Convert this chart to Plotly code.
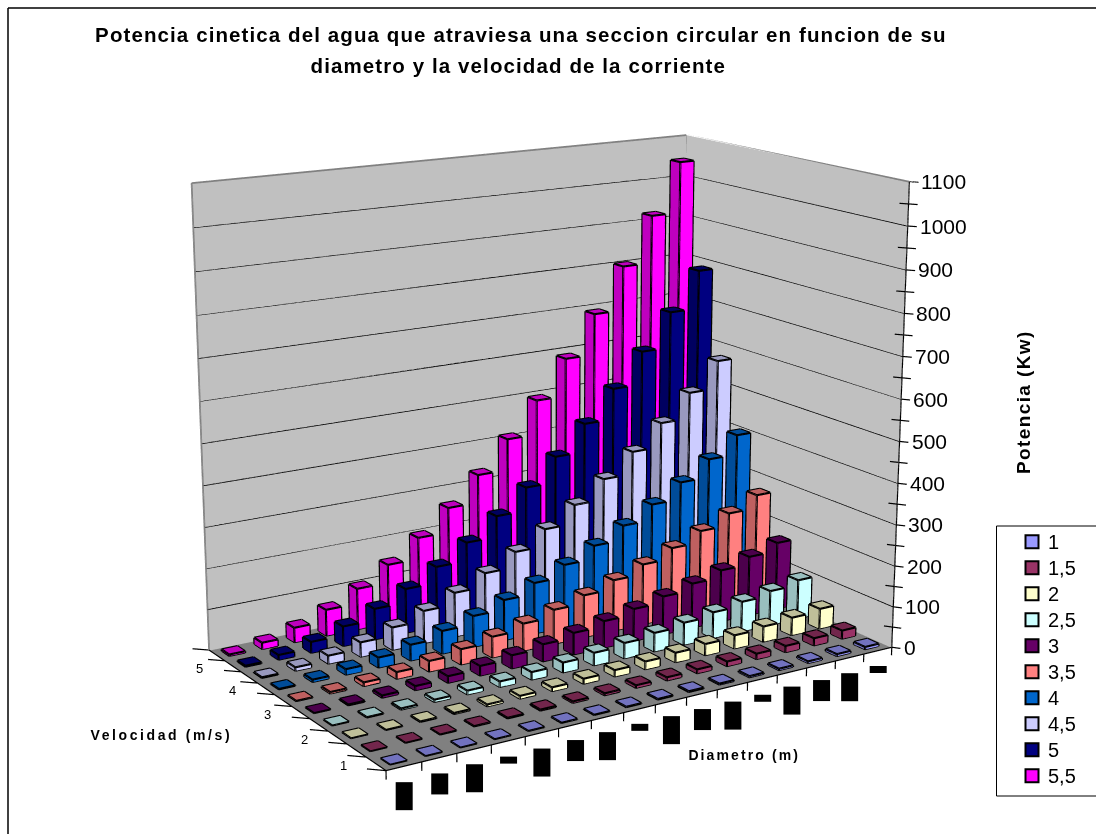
import plotly.graph_objects as go

diametros = ["0,25","0,5","0,75","1","1,25","1,5","1,75","2","2,25","2,5","2,75","3","3,25","3,5","3,75","4"]
velocidades = ["1","1,5","2","2,5","3","3,5","4","4,5","5","5,5"]
colores = ["#9999FF","#993366","#FFFFCC","#CCFFFF","#660066","#FF8080","#0066CC","#CCCCFF","#000080","#FF00FF"]
v_1_0 = [0.0,0.1,0.2,0.4,0.6,0.9,1.2,1.6,2.0,2.5,3.0,3.5,4.1,4.8,5.5,6.3]
v_1_5 = [0.1,0.3,0.7,1.3,2.1,3.0,4.1,5.3,6.7,8.3,10.0,11.9,14.0,16.2,18.6,21.2]
v_2_0 = [0.2,0.8,1.8,3.1,4.9,7.1,9.6,12.6,15.9,19.6,23.8,28.3,33.2,38.5,44.2,50.3]
v_2_5 = [0.4,1.5,3.5,6.1,9.6,13.8,18.8,24.5,31.1,38.3,46.4,55.2,64.8,75.2,86.3,98.2]
v_3_0 = [0.7,2.7,6.0,10.6,16.6,23.9,32.5,42.4,53.7,66.3,80.2,95.4,112.0,129.9,149.1,169.6]
v_3_5 = [1.1,4.2,9.5,16.8,26.3,37.9,51.6,67.3,85.2,105.2,127.3,151.5,177.8,206.3,236.7,269.4]
v_4_0 = [1.6,6.3,14.1,25.1,39.3,56.5,77.0,100.5,127.2,157.1,190.1,226.2,265.5,307.9,353.4,402.1]
v_4_5 = [2.2,8.9,20.1,35.8,55.9,80.5,109.6,143.1,181.2,223.7,270.6,322.1,378.0,438.4,503.2,572.6]
v_5_0 = [3.1,12.3,27.6,49.1,76.7,110.4,150.3,196.3,248.5,306.8,371.2,441.8,518.5,601.3,690.3,785.4]
v_5_5 = [4.1,16.3,36.8,65.3,102.1,147.0,200.1,261.3,330.8,408.3,494.1,588.0,690.1,800.4,918.8,1045.4]
series = [v_1_0,v_1_5,v_2_0,v_2_5,v_3_0,v_3_5,v_4_0,v_4_5,v_5_0,v_5_5]

TITULO_1 = "Potencia cinetica del agua que atraviesa una seccion circular en funcion de su"
TITULO_2 = "diametro y la velocidad de la corriente"

# Scene ranges leave room around the box for tick marks
XR = [-1.0, 17.0]
YR = [-1.0, 11.0]
ZR = [-80.0, 1100.0]
ZMAX = 1100
NX = len(diametros)
NY = len(velocidades)
BAR = 0.48
FOVY = 0.335
FONT = "Liberation Sans, Arial"
LIGHT = dict(ambient=1, diffuse=0, specular=0, fresnel=0, roughness=1)


def shade(h, k=0.75):
    return "rgb(%d,%d,%d)" % tuple(int(int(h[i:i+2], 16) * k) for i in (1, 3, 5))


fig = go.Figure()


def plane(xs, ys, zs, color):
    fig.add_trace(go.Mesh3d(x=xs, y=ys, z=zs, i=[0, 0], j=[1, 2], k=[2, 3], color=color,
                            lighting=LIGHT, hoverinfo="skip"))


def lines(segs, color, width):
    xs, ys, zs = [], [], []
    for a, b in segs:
        xs += [a[0], b[0], None]
        ys += [a[1], b[1], None]
        zs += [a[2], b[2], None]
    fig.add_trace(go.Scatter3d(x=xs, y=ys, z=zs, mode="lines", line=dict(color=color, width=width),
                               hoverinfo="skip", showlegend=False))


# Floor and the two back walls; the floor sits just under zero so flat boxes stay visible
FLOOR = -1.5
plane([0, NX, NX, 0], [0, 0, NY, NY], [FLOOR] * 4, "#808080")
plane([0, NX, NX, 0], [NY] * 4, [FLOOR, FLOOR, ZMAX, ZMAX], "#C0C0C0")
plane([NX] * 4, [0, NY, NY, 0], [FLOOR, FLOOR, ZMAX, ZMAX], "#C0C0C0")

# Wall gridlines every 100 kW
grid = []
for val in range(100, ZMAX, 100):
    grid.append(((0, NY, val), (NX, NY, val)))
    grid.append(((NX, NY, val), (NX, 0, val)))
lines(grid, "#000000", 2.4)

# Wall outline
lines([((0, NY, 0), (0, NY, ZMAX)), ((0, NY, ZMAX), (NX, NY, ZMAX)),
       ((NX, NY, ZMAX), (NX, 0, ZMAX)), ((NX, NY, 0), (NX, NY, ZMAX))], "#808080", 3.5)

# Axis lines and tick marks
ticks = [((NX, 0, 0), (NX, 0, ZMAX)), ((0, 0, 0), (NX, 0, 0)), ((0, 0, 0), (0, NY, 0))]
for val in range(0, ZMAX + 50, 50):
    if val % 100 == 0:
        ticks.append(((NX, 0, val), (NX + 0.14, -0.2, val)))
    else:
        ticks.append(((NX - 0.14, 0.2, val), (NX + 0.14, -0.2, val)))
for i in range(NX + 1):
    ticks.append(((i, 0, 0), (i, 0, -20)))
for j in range(NY + 1):
    ticks.append(((0, j, 0), (-0.34, j + 0.34, 0)))
lines(ticks, "#000000", 2.4)

# One box per diameter/velocity pair: front, left and top faces
for j, (vals, col) in enumerate(zip(series, colores)):
    xs, ys, zs, I, J, K, fc, segs = [], [], [], [], [], [], [], []
    y0 = j + 0.5 - BAR / 2
    y1 = j + 0.5 + BAR / 2
    for i, h in enumerate(vals):
        x0 = i + 0.5 - BAR / 2
        x1 = i + 0.5 + BAR / 2
        for pts, color in (
            ([(x0, y0, 0), (x1, y0, 0), (x1, y0, h), (x0, y0, h)], col),
            ([(x0, y0, 0), (x0, y1, 0), (x0, y1, h), (x0, y0, h)], shade(col)),
            ([(x0, y0, h), (x1, y0, h), (x1, y1, h), (x0, y1, h)], shade(col)),
        ):
            n = len(xs)
            for q in pts:
                xs.append(q[0])
                ys.append(q[1])
                zs.append(q[2])
            I += [n, n]
            J += [n + 1, n + 2]
            K += [n + 2, n + 3]
            fc += [color, color]
        a0, b0, c0 = (x0, y0, 0), (x1, y0, 0), (x0, y1, 0)
        a1, b1, c1, d1 = (x0, y0, h), (x1, y0, h), (x0, y1, h), (x1, y1, h)
        segs += [(a0, b0), (a0, c0), (a0, a1), (b0, b1), (c0, c1), (a1, b1), (a1, c1), (b1, d1), (c1, d1)]
    fig.add_trace(go.Mesh3d(x=xs, y=ys, z=zs, i=I, j=J, k=K, facecolor=fc, lighting=LIGHT,
                            flatshading=True, name=velocidades[j], hoverinfo="skip"))
    lines(segs, "#000000", 4.2)

# Tick labels anchored to the scene so they follow the data axes
scene_labels = []
for val in range(0, ZMAX + 100, 100):
    scene_labels.append(dict(x=NX, y=0, z=val, text=str(val), showarrow=False, xanchor="left", xshift=10,
                             font=dict(family=FONT, size=21, color="#000")))
for j in range(0, NY, 2):
    scene_labels.append(dict(x=0, y=j + 0.5, z=0, text=velocidades[j], showarrow=False, xshift=-33, yshift=-2,
                             font=dict(family=FONT, size=13, color="#000")))
# Diameter labels are printed black on black, rotated, as solid blocks
BLOCK = {4: 27, 3: 20, 1: 6}
for i, d in enumerate(diametros):
    scene_labels.append(dict(x=i + 0.5, y=0, z=0, text=d, showarrow=False, textangle=-90, yanchor="top",
                             yshift=-15, bgcolor="#000", width=BLOCK[len(d)], height=16, borderpad=0,
                             font=dict(family=FONT, size=10, color="#000")))

ann = [
    dict(x=521, y=34.5, text="<b>" + TITULO_1 + "</b>", font=dict(size=20.5, family=FONT, color="#000")),
    dict(x=518, y=65, text="<b>" + TITULO_2 + "</b>", font=dict(size=20.5, family=FONT, color="#000")),
    dict(x=161, y=735, text="<b>Velocidad (m/s)</b>", font=dict(size=14, family=FONT, color="#000")),
    dict(x=744, y=755, text="<b>Diametro (m)</b>", font=dict(size=14, family=FONT, color="#000")),
    dict(x=1023, y=402, text="<b>Potencia (Kw)</b>", textangle=-90, font=dict(size=19, family=FONT, color="#000")),
]
shapes = [
    dict(type="line", x0=8, x1=1096, y0=8, y1=8, line=dict(color="#000", width=1.5)),
    dict(type="line", x0=8, x1=8, y0=8, y1=834, line=dict(color="#000", width=1.5)),
    dict(type="rect", x0=996.5, x1=1100, y0=526, y1=796, line=dict(color="#000", width=1), fillcolor="#fff"),
]
for j, col in enumerate(colores):
    yc = 541.7 + 26 * j
    shapes.append(dict(type="rect", x0=1025.5, x1=1038.5, y0=yc - 6.5, y1=yc + 6.5,
                       line=dict(color="#000", width=2), fillcolor=col))
    ann.append(dict(x=1046, y=yc, text=velocidades[j], xanchor="left", font=dict(size=20, family=FONT, color="#000")))
for a in ann:
    a.update(xref="x", yref="y", showarrow=False)
for s in shapes:
    s.update(xref="x", yref="y", layer="above")

# Empty 2D trace: gives the title, legend box and axis titles a pixel-sized coordinate system
fig.add_trace(go.Scatter(x=[None], y=[None], xaxis="x", yaxis="y", showlegend=False))

fig.update_layout(
    width=1096, height=834, margin=dict(l=0, r=0, t=0, b=0), paper_bgcolor="white",
    plot_bgcolor="rgba(0,0,0,0)", showlegend=False,
    xaxis=dict(visible=False, range=[0, 1096], domain=[0, 1]),
    yaxis=dict(visible=False, range=[834, 0], domain=[0, 1]),
    annotations=ann, shapes=shapes,
    scene=dict(
        domain=dict(x=[0, 1], y=[0, 1]),
        xaxis=dict(visible=False, range=XR), yaxis=dict(visible=False, range=YR), zaxis=dict(visible=False, range=ZR),
        aspectmode="manual", aspectratio=dict(x=1.5910, y=1.0630, z=1.2335), bgcolor="rgba(0,0,0,0)",
        camera=dict(eye=dict(x=-3.0786, y=-4.7751, z=1.5588), center=dict(x=0.0058, y=0.0224, z=0.0468),
                    up=dict(x=-0.0004, y=-0.0004, z=1)),
        annotations=scene_labels,
    ),
)

# Narrow the scene's field of view and open up the lettering of the titles
post = """
var gd = document.getElementById('{plot_id}');
var st = document.createElement('style');
st.textContent =
  'text[data-unformatted*="Potencia cinetica"], text[data-unformatted*="diametro y"] {letter-spacing:1.1px}' +
  'text[data-unformatted*="Velocidad"] {letter-spacing:2.6px}' +
  'text[data-unformatted*="Diametro"] {letter-spacing:2.1px}' +
  'text[data-unformatted*="Potencia (Kw)"] {letter-spacing:1.4px}';
document.head.appendChild(st);
var scene3d = gd._fullLayout.scene._scene;
scene3d.glplot.fovy = %f;
scene3d.glplot.redraw();
""" % FOVY
fig.write_html("out.html", post_script=post)
